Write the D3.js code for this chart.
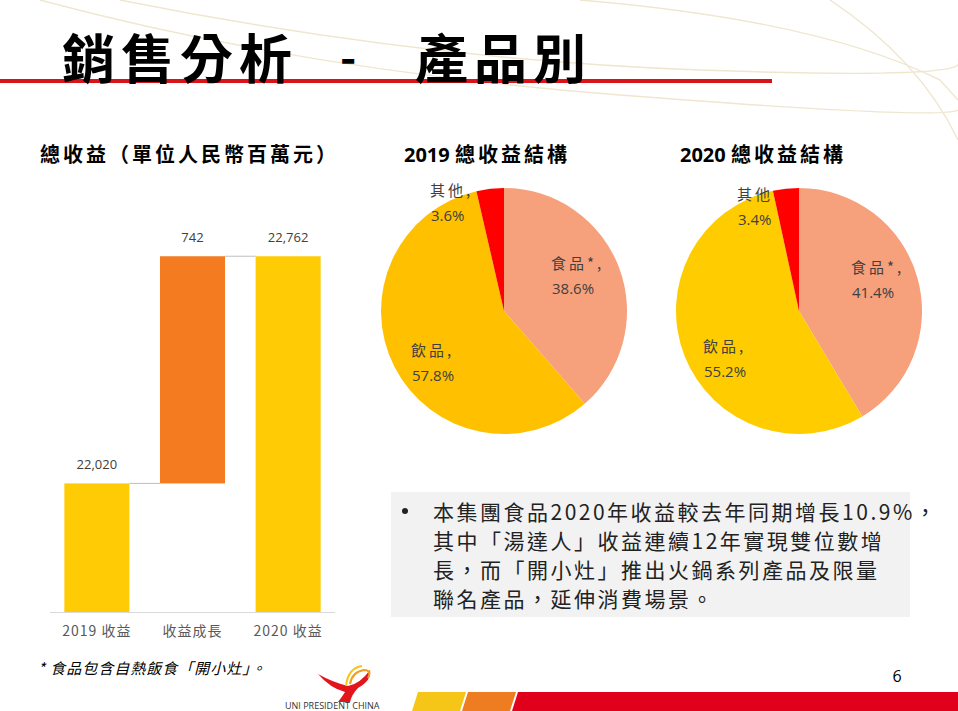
<!DOCTYPE html>
<html>
<head>
<meta charset="utf-8">
<script src="https://cdn.jsdelivr.net/npm/d3@7"></script>
<style>
  body { margin: 0; background: #fff; }
  svg { display: block; }
  .cjk { font-family: "Noto Sans CJK TC", "Noto Sans", sans-serif; }
  .num { font-family: "Open Sans", "Noto Sans", sans-serif; }
</style>
</head>
<body>
<div id="chart"></div>
<script>
// waterfall data
const wfCategories = ['2019 收益', '收益成長', '2020 收益'];
const wfValues = [22020, 742, 22762];
const wfLabels = ['22,020', '742', '22,762'];

// pie data
const pieNames = ['食品*,', '飲品,', '其他,'];
const pie2019 = [38.6, 57.8, 3.6];
const pie2020 = [41.4, 55.2, 3.4];
const pie2020Names = ['食品*,', '飲品,', '其他'];

const noteLines = [
    '本集團食品2020年收益較去年同期增長10.9%，',
    '其中「湯達人」收益連續12年實現雙位數增',
    '長，而「開小灶」推出火鍋系列產品及限量',
    '聯名產品，延伸消費場景。'
];

const W = 958, H = 711;
const svg = d3.select('#chart').append('svg')
    .attr('width', W)
    .attr('height', H);

// faint background swooshes
const deco = svg.append('g').attr('fill', 'none').attr('stroke', '#efe6cf').attr('stroke-width', 1.4);
deco.append('path').attr('d', 'M40,0 Q300,70 620,95 T958,110');
deco.append('path').attr('d', 'M120,0 Q420,60 700,70 T958,60');
deco.append('path').attr('d', 'M580,0 Q820,20 940,80 L958,100');
deco.append('path').attr('d', 'M830,0 Q920,60 958,140');

// title
svg.append('rect')
    .attr('x', 0).attr('y', 79)
    .attr('width', 772).attr('height', 4)
    .attr('fill', '#d7141a');
svg.append('text')
    .attr('class', 'cjk')
    .attr('x', 62).attr('y', 79)
    .attr('font-size', 53)
    .attr('font-weight', 700)
    .attr('letter-spacing', 6)
    .text('銷售分析');
svg.append('text')
    .attr('class', 'cjk')
    .attr('x', 340).attr('y', 74)
    .attr('font-size', 44)
    .attr('font-weight', 700)
    .text('-');
svg.append('text')
    .attr('class', 'cjk')
    .attr('x', 415).attr('y', 79)
    .attr('font-size', 53)
    .attr('font-weight', 700)
    .attr('letter-spacing', 6)
    .text('產品別');

// section headings
svg.append('text')
    .attr('class', 'cjk')
    .attr('x', 40).attr('y', 162)
    .attr('font-size', 20)
    .attr('font-weight', 700)
    .attr('letter-spacing', 3)
    .text('總收益（單位人民幣百萬元）');

function heading(x, year) {
    const t = svg.append('text')
        .attr('x', x).attr('y', 162)
        .attr('font-size', 20)
        .attr('font-weight', 700);
    t.append('tspan').attr('class', 'num').text(year + ' ');
    t.append('tspan').attr('class', 'cjk').attr('letter-spacing', 3).text('總收益結構');
}
heading(404, '2019');
heading(680, '2020');

// waterfall chart
const baseline = 612;
const x = d3.scaleBand()
    .domain(wfCategories)
    .range([50, 335])
    .paddingInner(0.32)
    .paddingOuter(0.15);
const y = d3.scaleLinear()
    .domain([21600, 22900])
    .range([baseline, 214]);

const wfBars = wfCategories.map((c, i) => {
    if (i === 1) return { c, lo: wfValues[0], hi: wfValues[0] + wfValues[1], color: '#f47b20', label: wfLabels[i] };
    return { c, lo: y.domain()[0], hi: wfValues[i], color: '#ffcb05', label: wfLabels[i] };
});

const wf = svg.append('g');
wf.selectAll('.bar')
    .data(wfBars)
    .join('rect')
    .attr('class', 'bar')
    .attr('x', d => x(d.c))
    .attr('y', d => y(d.hi))
    .attr('width', x.bandwidth())
    .attr('height', d => y(d.lo) - y(d.hi))
    .attr('fill', d => d.color);

// connector lines
wf.append('line')
    .attr('x1', x(wfCategories[0]) + x.bandwidth()).attr('x2', x(wfCategories[1]))
    .attr('y1', y(wfValues[0])).attr('y2', y(wfValues[0]))
    .attr('stroke', '#bfbfbf').attr('stroke-width', 1);
wf.append('line')
    .attr('x1', x(wfCategories[1]) + x.bandwidth()).attr('x2', x(wfCategories[2]))
    .attr('y1', y(wfValues[2])).attr('y2', y(wfValues[2]))
    .attr('stroke', '#bfbfbf').attr('stroke-width', 1);

wf.selectAll('.val')
    .data(wfBars)
    .join('text')
    .attr('class', 'val num')
    .attr('x', d => x(d.c) + x.bandwidth() / 2)
    .attr('y', d => y(d.hi) - 14)
    .attr('text-anchor', 'middle')
    .attr('font-size', 13)
    .attr('fill', '#404040')
    .text(d => d.label);

const xAxis = wf.append('g')
    .attr('transform', `translate(0, ${baseline})`)
    .call(d3.axisBottom(x).tickSize(0).tickPadding(14));
xAxis.select('.domain').attr('stroke', '#d9d9d9').attr('d', 'M50,0.5H335');
xAxis.selectAll('text')
    .attr('class', 'cjk')
    .attr('font-size', 14)
    .attr('fill', '#595959')
    .attr('letter-spacing', 1);

// pies
const pieColors = ['#f7a07c', '#ffc000', '#ff0000'];
const pieColors2 = ['#f7a07c', '#ffcc00', '#ff0000'];

function drawPie(cx, cy, values, names, colors, labelPos) {
    const g = svg.append('g').attr('transform', `translate(${cx}, ${cy})`);
    const arcs = d3.pie().sort(null).value(d => d)(values);
    const arc = d3.arc().innerRadius(0).outerRadius(123);
    g.selectAll('path')
        .data(arcs)
        .join('path')
        .attr('d', arc)
        .attr('fill', (d, i) => colors[i]);
    const lab = svg.append('g');
    values.forEach((v, i) => {
        lab.append('text')
            .attr('class', 'cjk')
            .attr('x', labelPos[i][0]).attr('y', labelPos[i][1])
            .attr('font-size', 15)
            .attr('fill', '#404040')
            .attr('letter-spacing', 3)
            .text(names[i]);
        lab.append('text')
            .attr('class', 'num')
            .attr('x', labelPos[i][0] + 1).attr('y', labelPos[i][1] + 25)
            .attr('font-size', 15)
            .attr('fill', '#404040')
            .text(v.toFixed(1) + '%');
    });
}
drawPie(504, 311, pie2019, pieNames, pieColors, [[551, 269], [411, 356], [430, 196]]);
drawPie(799, 311, pie2020, pie2020Names, pieColors2, [[851, 273], [703, 352], [737, 200]]);

// note box
svg.append('rect')
    .attr('x', 391).attr('y', 492)
    .attr('width', 519).attr('height', 125)
    .attr('fill', '#f2f2f2');
svg.append('circle')
    .attr('cx', 405).attr('cy', 511).attr('r', 3)
    .attr('fill', '#222');
svg.selectAll('.note')
    .data(noteLines)
    .join('text')
    .attr('class', 'note cjk')
    .attr('x', 433)
    .attr('y', (d, i) => 520 + i * 29)
    .attr('font-size', 21)
    .attr('letter-spacing', 2.5)
    .attr('fill', '#222')
    .text(d => d);

// footnote + page number
svg.append('text')
    .attr('class', 'cjk')
    .attr('x', 38).attr('y', 674)
    .attr('font-size', 15)
    .attr('font-style', 'italic')
    .attr('letter-spacing', 1)
    .text('* 食品包含自熱飯食「開小灶」。');
svg.append('text')
    .attr('class', 'num')
    .attr('x', 897).attr('y', 682)
    .attr('text-anchor', 'middle')
    .attr('font-size', 16)
    .text('6');

// footer stripes
const stripes = svg.append('g');
stripes.append('path').attr('d', 'M418,692 L466,692 L460,711 L412,711 Z').attr('fill', '#f5c518');
stripes.append('path').attr('d', 'M468,692 L516,692 L510,711 L462,711 Z').attr('fill', '#ee7d22');
stripes.append('path').attr('d', 'M518,692 L958,692 L958,711 L512,711 Z').attr('fill', '#e0001b');

// logo
const logo = svg.append('g');
logo.append('path')
    .attr('d', 'M318,674 Q330,688 345,692 Q342,697 338,702 L350,702 Q352,694 358,688 Q372,680 370,670 Q360,684 348,686 Q332,682 318,674 Z')
    .attr('fill', '#e3141b');
logo.append('path')
    .attr('d', 'M350,684 Q352,672 364,670 Q372,670 368,678')
    .attr('fill', 'none').attr('stroke', '#f39c1f').attr('stroke-width', 2);
logo.append('path')
    .attr('d', 'M346,686 Q348,668 362,666')
    .attr('fill', 'none').attr('stroke', '#f5c518').attr('stroke-width', 2);
logo.append('text')
    .attr('class', 'num')
    .attr('x', 285).attr('y', 709)
    .attr('font-size', 9)
    .attr('fill', '#333')
    .text('UNI PRESIDENT CHINA');
</script>
</body>
</html>
